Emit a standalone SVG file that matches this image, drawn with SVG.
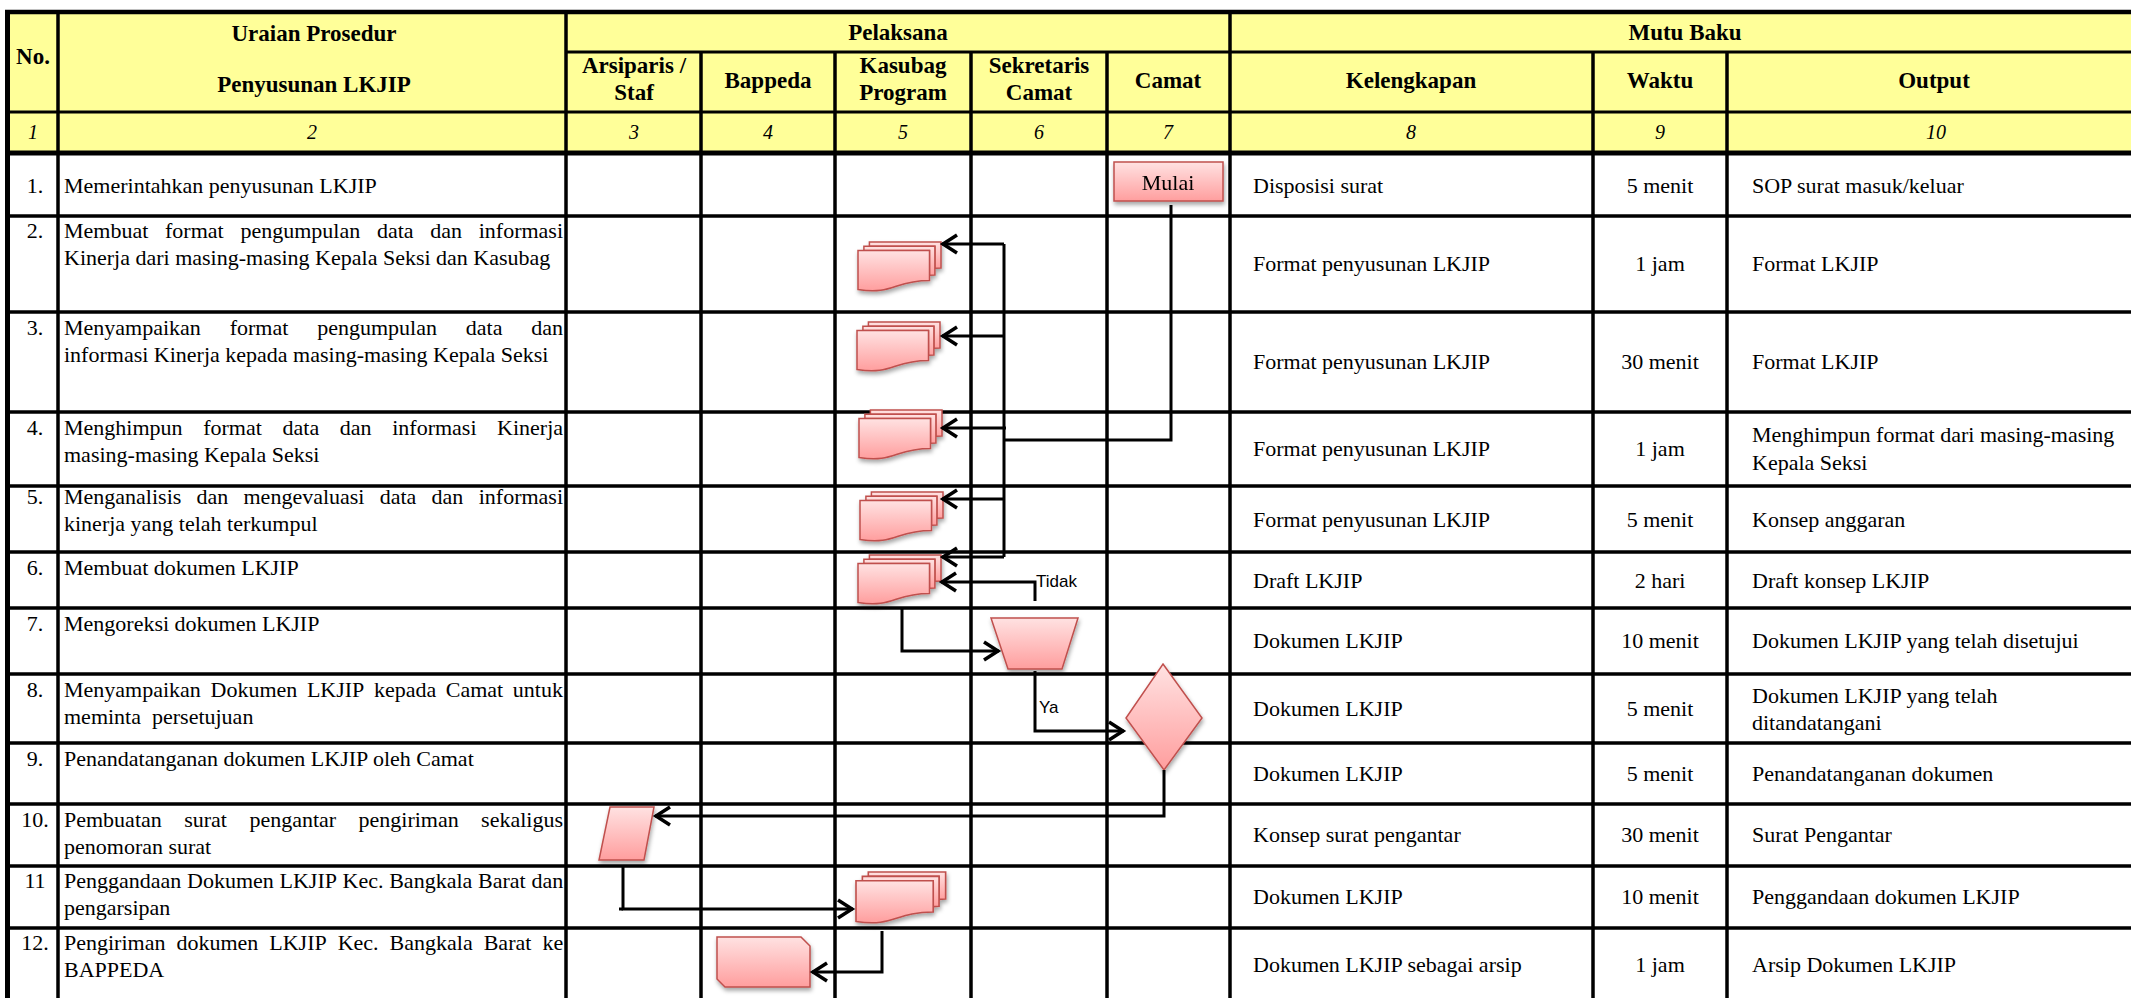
<svg xmlns="http://www.w3.org/2000/svg" xmlns:xlink="http://www.w3.org/1999/xlink" width="2131" height="998" viewBox="0 0 2131 998">
<style>
  .grid { stroke:#000; fill:none; }
  .t { font-family:"Liberation Serif","Times New Roman",serif; font-size:22px; fill:#000; }
  .h { font-weight:bold; font-size:23px; text-anchor:middle; }
  .n { font-style:italic; font-size:20px; text-anchor:middle; }
  .c { text-anchor:middle; }
  .lbl { font-family:"Liberation Sans",Arial,sans-serif; font-size:17px; fill:#000; }
  .shape { fill:url(#pink); stroke:#C0504D; stroke-width:1.5; }
  .conn { fill:none; stroke:#000; stroke-width:3; }
  .arr { marker-end:url(#arrow); }
</style>
<defs>
  <linearGradient id="pink" x1="0" y1="0" x2="0" y2="1">
    <stop offset="0" stop-color="#FFE2E2"/>
    <stop offset="1" stop-color="#FF9E9E"/>
  </linearGradient>
  <filter id="shadow" x="-20%" y="-20%" width="150%" height="170%">
    <feDropShadow dx="1" dy="3" stdDeviation="2" flood-color="#000" flood-opacity="0.35"/>
  </filter>
  <marker id="arrow" markerUnits="userSpaceOnUse" markerWidth="24" markerHeight="24" viewBox="-20 -12 24 24" refX="0" refY="0" orient="auto" overflow="visible">
    <path d="M-15,-9 L-1,0 L-15,9" fill="none" stroke="#000" stroke-width="3.5"/>
  </marker>
  <!-- stacked documents symbol, 83 x 50 -->
  <g id="mdoc">
    <path class="shape" d="M11.4,4.2 L11.4,0 L83,0 L83,26 C79.9,26 76.9,26.3 76.9,26.3 L76.9,4.2 Z"/>
    <path class="shape" d="M5.9,8.5 L5.9,4.2 L76.9,4.2 L76.9,33 C74.2,33 71.5,33.3 71.5,33.3 L71.5,8.5 Z"/>
    <path class="shape" d="M0,47.5 C35.7,53 35.7,38.5 71.5,38.5 L71.5,8.5 L0,8.5 Z"/>
  </g>
</defs>

<!-- table background and grid -->
<g id="table">
  <rect x="7" y="12" width="2124" height="141" fill="#FFFF99"/>
  <g class="grid" stroke-width="3.5">
    <line x1="5" y1="12" x2="2131" y2="12" stroke-width="4.5"/>
    <line x1="566" y1="52" x2="2131" y2="52" stroke-width="3"/>
    <line x1="5" y1="112" x2="2131" y2="112" stroke-width="3"/>
    <line x1="5" y1="153" x2="2131" y2="153" stroke-width="5"/>
    <line x1="5" y1="216" x2="2131" y2="216"/>
    <line x1="5" y1="312" x2="2131" y2="312"/>
    <line x1="5" y1="412" x2="2131" y2="412"/>
    <line x1="5" y1="486" x2="2131" y2="486"/>
    <line x1="5" y1="552" x2="2131" y2="552"/>
    <line x1="5" y1="608" x2="2131" y2="608"/>
    <line x1="5" y1="674" x2="2131" y2="674"/>
    <line x1="5" y1="743" x2="2131" y2="743"/>
    <line x1="5" y1="804" x2="2131" y2="804"/>
    <line x1="5" y1="866" x2="2131" y2="866"/>
    <line x1="5" y1="928" x2="2131" y2="928"/>
    <line x1="7.5" y1="10" x2="7.5" y2="998" stroke-width="5"/>
    <line x1="58" y1="12" x2="58" y2="998"/>
    <line x1="566" y1="12" x2="566" y2="998"/>
    <line x1="701" y1="52" x2="701" y2="998"/>
    <line x1="835" y1="52" x2="835" y2="998"/>
    <line x1="971" y1="52" x2="971" y2="998"/>
    <line x1="1107" y1="52" x2="1107" y2="998"/>
    <line x1="1230" y1="12" x2="1230" y2="998"/>
    <line x1="1593" y1="52" x2="1593" y2="998"/>
    <line x1="1727" y1="52" x2="1727" y2="998"/>
  </g>
</g>

<!-- column headings -->
<g id="headings" class="t h">
  <text x="33" y="64">No.</text>
  <text x="314" y="41">Uraian Prosedur</text>
  <text x="314" y="92">Penyusunan LKJIP</text>
  <text x="898" y="40">Pelaksana</text>
  <text x="1685" y="40">Mutu Baku</text>
  <text x="634" y="73">Arsiparis /</text>
  <text x="634" y="100">Staf</text>
  <text x="768" y="88">Bappeda</text>
  <text x="903" y="73">Kasubag</text>
  <text x="903" y="100">Program</text>
  <text x="1039" y="73">Sekretaris</text>
  <text x="1039" y="100">Camat</text>
  <text x="1168" y="88">Camat</text>
  <text x="1411" y="88">Kelengkapan</text>
  <text x="1660" y="88">Waktu</text>
  <text x="1934" y="88">Output</text>
</g>
<g id="column-numbers" class="t n">
  <text x="33" y="139">1</text>
  <text x="312" y="139">2</text>
  <text x="634" y="139">3</text>
  <text x="768" y="139">4</text>
  <text x="903" y="139">5</text>
  <text x="1039" y="139">6</text>
  <text x="1168" y="139">7</text>
  <text x="1411" y="139">8</text>
  <text x="1660" y="139">9</text>
  <text x="1936" y="139">10</text>
</g>

<!-- procedure rows -->
<g id="row-1" class="t">
  <text class="c" x="35" y="193">1.</text>
  <text x="64" y="193">Memerintahkan penyusunan LKJIP</text>
  <text x="1253" y="193">Disposisi surat</text>
  <text class="c" x="1660" y="193">5 menit</text>
  <text x="1752" y="193">SOP surat masuk/keluar</text>
</g>
<g id="row-2" class="t">
  <text class="c" x="35" y="238">2.</text>
  <text y="238"><tspan x="64">Membuat</tspan><tspan x="165">format</tspan><tspan x="240.4">pengumpulan</tspan><tspan x="376.9">data</tspan><tspan x="430.3">dan</tspan><tspan x="478.7">informasi</tspan></text>
  <text x="64" y="265">Kinerja dari masing-masing Kepala Seksi dan Kasubag</text>
  <text x="1253" y="271">Format penyusunan LKJIP</text>
  <text class="c" x="1660" y="271">1 jam</text>
  <text x="1752" y="271">Format LKJIP</text>
</g>
<g id="row-3" class="t">
  <text class="c" x="35" y="335">3.</text>
  <text y="335"><tspan x="64">Menyampaikan</tspan><tspan x="229.7">format</tspan><tspan x="317.2">pengumpulan</tspan><tspan x="465.8">data</tspan><tspan x="531.3">dan</tspan></text>
  <text x="64" y="362">informasi Kinerja kepada masing-masing Kepala Seksi</text>
  <text x="1253" y="369">Format penyusunan LKJIP</text>
  <text class="c" x="1660" y="369">30 menit</text>
  <text x="1752" y="369">Format LKJIP</text>
</g>
<g id="row-4" class="t">
  <text class="c" x="35" y="435">4.</text>
  <text y="435"><tspan x="64">Menghimpun</tspan><tspan x="203.2">format</tspan><tspan x="282.5">data</tspan><tspan x="339.8">dan</tspan><tspan x="392.2">informasi</tspan><tspan x="497.1">Kinerja</tspan></text>
  <text x="64" y="462">masing-masing Kepala Seksi</text>
  <text x="1253" y="456">Format penyusunan LKJIP</text>
  <text class="c" x="1660" y="456">1 jam</text>
  <text x="1752" y="442">Menghimpun format dari masing-masing</text>
  <text x="1752" y="470">Kepala Seksi</text>
</g>
<g id="row-5" class="t">
  <text class="c" x="35" y="504">5.</text>
  <text y="504"><tspan x="64">Menganalisis</tspan><tspan x="196.5">dan</tspan><tspan x="243.5">mengevaluasi</tspan><tspan x="379.7">data</tspan><tspan x="431.6">dan</tspan><tspan x="478.7">informasi</tspan></text>
  <text x="64" y="531">kinerja yang telah terkumpul</text>
  <text x="1253" y="527">Format penyusunan LKJIP</text>
  <text class="c" x="1660" y="527">5 menit</text>
  <text x="1752" y="527">Konsep anggaran</text>
</g>
<g id="row-6" class="t">
  <text class="c" x="35" y="575">6.</text>
  <text x="64" y="575">Membuat dokumen LKJIP</text>
  <text x="1253" y="588">Draft LKJIP</text>
  <text class="c" x="1660" y="588">2 hari</text>
  <text x="1752" y="588">Draft konsep LKJIP</text>
</g>
<g id="row-7" class="t">
  <text class="c" x="35" y="631">7.</text>
  <text x="64" y="631">Mengoreksi dokumen LKJIP</text>
  <text x="1253" y="648">Dokumen LKJIP</text>
  <text class="c" x="1660" y="648">10 menit</text>
  <text x="1752" y="648">Dokumen LKJIP yang telah disetujui</text>
</g>
<g id="row-8" class="t">
  <text class="c" x="35" y="697">8.</text>
  <text y="697"><tspan x="64">Menyampaikan</tspan><tspan x="210.5">Dokumen</tspan><tspan x="306.9">LKJIP</tspan><tspan x="373.9">kepada</tspan><tspan x="445.8">Camat</tspan><tspan x="512.8">untuk</tspan></text>
  <text x="64" y="724" xml:space="preserve">meminta  persetujuan</text>
  <text x="1253" y="716">Dokumen LKJIP</text>
  <text class="c" x="1660" y="716">5 menit</text>
  <text x="1752" y="703">Dokumen LKJIP yang telah</text>
  <text x="1752" y="730">ditandatangani</text>
</g>
<g id="row-9" class="t">
  <text class="c" x="35" y="766">9.</text>
  <text x="64" y="766">Penandatanganan dokumen LKJIP oleh Camat</text>
  <text x="1253" y="781">Dokumen LKJIP</text>
  <text class="c" x="1660" y="781">5 menit</text>
  <text x="1752" y="781">Penandatanganan dokumen</text>
</g>
<g id="row-10" class="t">
  <text class="c" x="35" y="827">10.</text>
  <text y="827"><tspan x="64">Pembuatan</tspan><tspan x="184.2">surat</tspan><tspan x="249.4">pengantar</tspan><tspan x="358.5">pengiriman</tspan><tspan x="481.1">sekaligus</tspan></text>
  <text x="64" y="854">penomoran surat</text>
  <text x="1253" y="842">Konsep surat pengantar</text>
  <text class="c" x="1660" y="842">30 menit</text>
  <text x="1752" y="842">Surat Pengantar</text>
</g>
<g id="row-11" class="t">
  <text class="c" x="35" y="888">11</text>
  <text y="888"><tspan x="64">Penggandaan</tspan><tspan x="187">Dokumen</tspan><tspan x="279.5">LKJIP</tspan><tspan x="342.6">Kec.</tspan><tspan x="389.2">Bangkala</tspan><tspan x="478">Barat</tspan><tspan x="531.4">dan</tspan></text>
  <text x="64" y="915">pengarsipan</text>
  <text x="1253" y="904">Dokumen LKJIP</text>
  <text class="c" x="1660" y="904">10 menit</text>
  <text x="1752" y="904">Penggandaan dokumen LKJIP</text>
</g>
<g id="row-12" class="t">
  <text class="c" x="35" y="950">12.</text>
  <text y="950"><tspan x="64">Pengiriman</tspan><tspan x="176.4">dokumen</tspan><tspan x="269.3">LKJIP</tspan><tspan x="337.7">Kec.</tspan><tspan x="389.6">Bangkala</tspan><tspan x="483.7">Barat</tspan><tspan x="542.4">ke</tspan></text>
  <text x="64" y="977">BAPPEDA</text>
  <text x="1253" y="972">Dokumen LKJIP sebagai arsip</text>
  <text class="c" x="1660" y="972">1 jam</text>
  <text x="1752" y="972">Arsip Dokumen LKJIP</text>
</g>

<!-- flow nodes -->
<g id="node-mulai" filter="url(#shadow)">
  <rect class="shape" x="1114" y="162" width="109" height="39"/>
  <text class="t c" x="1168" y="190" font-size="24">Mulai</text>
</g>
<g id="node-doc-2" filter="url(#shadow)"><use xlink:href="#mdoc" transform="translate(858,242)"/></g>
<g id="node-doc-3" filter="url(#shadow)"><use xlink:href="#mdoc" transform="translate(857,322)"/></g>
<g id="node-doc-4" filter="url(#shadow)"><use xlink:href="#mdoc" transform="translate(859,410)"/></g>
<g id="node-doc-5" filter="url(#shadow)"><use xlink:href="#mdoc" transform="translate(860,492)"/></g>
<g id="node-doc-6" filter="url(#shadow)"><use xlink:href="#mdoc" transform="translate(858,555)"/></g>
<g id="node-koreksi" filter="url(#shadow)">
  <polygon class="shape" points="991,618 1078,618 1062,669 1008,669"/>
</g>
<g id="node-keputusan" filter="url(#shadow)">
  <polygon class="shape" points="1163,664 1202,718 1164,770 1126,718"/>
</g>
<g id="node-surat" filter="url(#shadow)">
  <polygon class="shape" points="610,807 654,807 644,860 599,860"/>
</g>
<g id="node-doc-11" filter="url(#shadow)"><use xlink:href="#mdoc" transform="translate(856,872) scale(1.08,1.04)"/></g>
<g id="node-kirim" filter="url(#shadow)">
  <polygon class="shape" points="717,937 801,937 810,946 810,987 725,987 717,979"/>
</g>

<!-- connectors -->
<g id="connectors">
  <polyline class="conn" points="1171,205 1171,440 1004,440"/>
  <line class="conn" x1="1004" y1="244" x2="1004" y2="557"/>
  <line class="conn arr" x1="1004" y1="244" x2="942" y2="244"/>
  <line class="conn arr" x1="1004" y1="336" x2="942" y2="336"/>
  <line class="conn arr" x1="1006" y1="428" x2="942" y2="428"/>
  <line class="conn arr" x1="1004" y1="499" x2="942" y2="499"/>
  <line class="conn arr" x1="1004" y1="557" x2="942" y2="557"/>
  <polyline class="conn arr" points="1035,601 1035,582 941,582"/>
  <text class="lbl" x="1036" y="587">Tidak</text>
  <polyline class="conn arr" points="902,609 902,651 999,651"/>
  <polyline class="conn arr" points="1035,671 1035,731 1124,731"/>
  <text class="lbl" x="1039" y="713">Ya</text>
  <polyline class="conn arr" points="1164,770 1164,816 655,816"/>
  <polyline class="conn" points="619,909 623,909"/>
  <polyline class="conn arr" points="623,866 623,909 853,909"/>
  <polyline class="conn arr" points="882,931 882,972 812,972"/>
</g>
</svg>
